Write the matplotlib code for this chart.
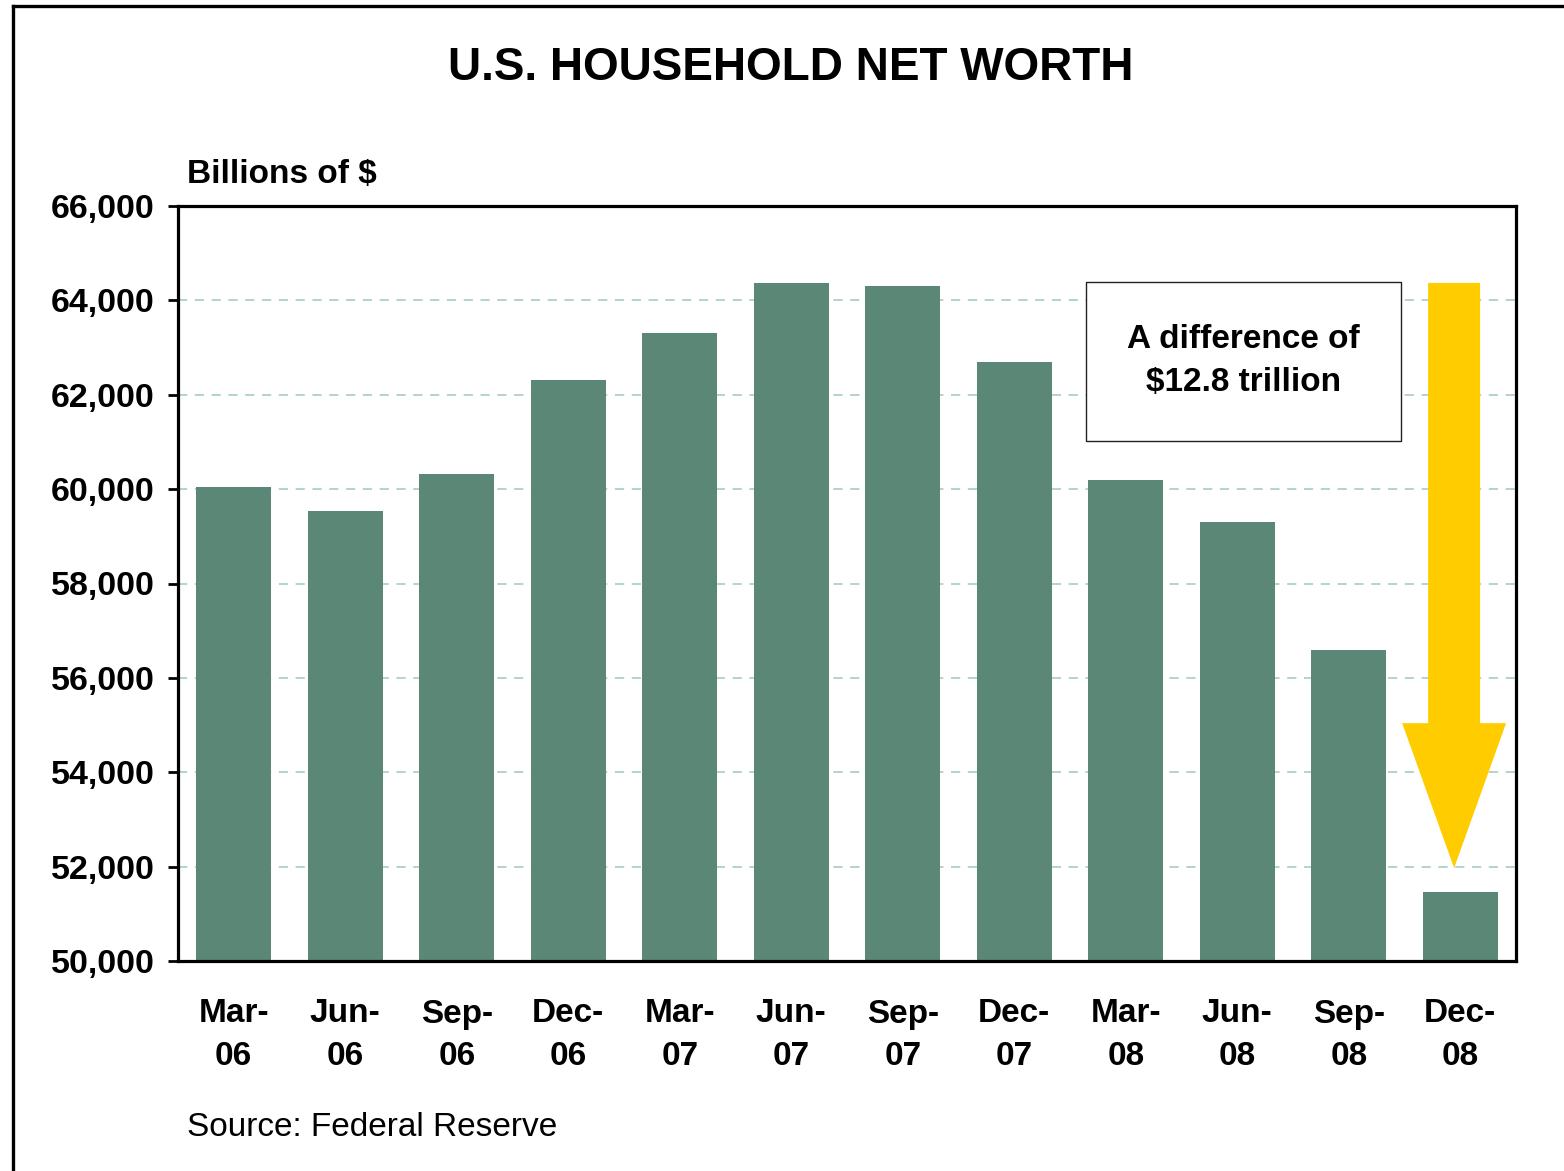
import matplotlib
matplotlib.use("Agg")
import matplotlib.pyplot as plt
from matplotlib.patches import Rectangle, FancyArrow
from matplotlib.lines import Line2D
import numpy as np

plt.rcParams['font.family'] = ['Liberation Sans', 'DejaVu Sans']

# quarterly net worth, billions of $
quarters = ["Mar-\n06", "Jun-\n06", "Sep-\n06", "Dec-\n06",
            "Mar-\n07", "Jun-\n07", "Sep-\n07", "Dec-\n07",
            "Mar-\n08", "Jun-\n08", "Sep-\n08", "Dec-\n08"]
net_worth = [60045, 59540, 60320, 62310, 63310, 64370,
             64300, 62690, 60190, 59300, 56590, 51460]
yticks = [50000, 52000, 54000, 56000, 58000, 60000, 62000, 64000, 66000]

bar_color = '#5B8777'
grid_color = '#9FC7BA'
arrow_color = '#FFCC00'

fig = plt.figure(figsize=(15.64, 11.71), dpi=100)
ax = fig.add_axes([178/1564, 1-961/1171, (1516-178)/1564, (961-206)/1171])

x = np.arange(len(quarters))
ax.bar(x, net_worth, width=0.67, color=bar_color, zorder=3)

ax.set_xlim(-0.5, len(quarters)-0.5)
ax.set_ylim(50000, 66000)
ax.set_yticks(yticks)
ax.set_yticklabels([f"{v:,}" for v in yticks], fontsize=24.5, fontweight='bold')
ax.set_xticks(x)
ax.set_xticklabels(quarters, fontsize=24, fontweight='bold', linespacing=1.48)
ax.tick_params(axis='y', length=7, width=2, pad=10)
ax.tick_params(axis='x', length=0, pad=27)

for v in yticks[1:-1]:
    ax.axhline(v, color=grid_color, lw=1.1, linestyle=(0, (6, 5)), zorder=1)

for s in ax.spines.values():
    s.set_linewidth(2.3)
    s.set_zorder(5)

# annotation box
ax.add_patch(Rectangle((7.64, 61020), 10.47-7.64, 64390-61020,
                       facecolor='white', edgecolor='#222222', lw=1.0, zorder=4))
ax.text((7.64+10.47)/2, (61020+64390)/2, "A difference of\n$12.8 trillion",
        ha='center', va='center', fontsize=24, fontweight='bold',
        linespacing=1.5, zorder=6)

# big yellow arrow from the peak down to the last quarter
top = max(net_worth)
tip = 51970
ax.add_patch(FancyArrow(10.945, top, 0, tip-top, width=0.466, head_width=0.932,
                        head_length=3070, length_includes_head=True,
                        color=arrow_color, lw=0, zorder=4, clip_on=False))

fig.text(791/1564, 1-68/1171, "U.S. HOUSEHOLD NET WORTH", ha='center', va='center',
         fontsize=33, fontweight='bold')
fig.text(187/1564, 1-175/1171, "Billions of $", ha='left', va='center',
         fontsize=24, fontweight='bold')
fig.text(187/1564, 1-1127/1171, "Source: Federal Reserve", ha='left', va='center',
         fontsize=24)

# outer frame (clipped at right and bottom)
fig.add_artist(Line2D([13/1564, 1], [1-6/1171, 1-6/1171], color='black', lw=2.4,
                      transform=fig.transFigure))
fig.add_artist(Line2D([13/1564, 13/1564], [0, 1-6/1171], color='black', lw=2.4,
                      transform=fig.transFigure))

fig.savefig("out.png", dpi=100)
